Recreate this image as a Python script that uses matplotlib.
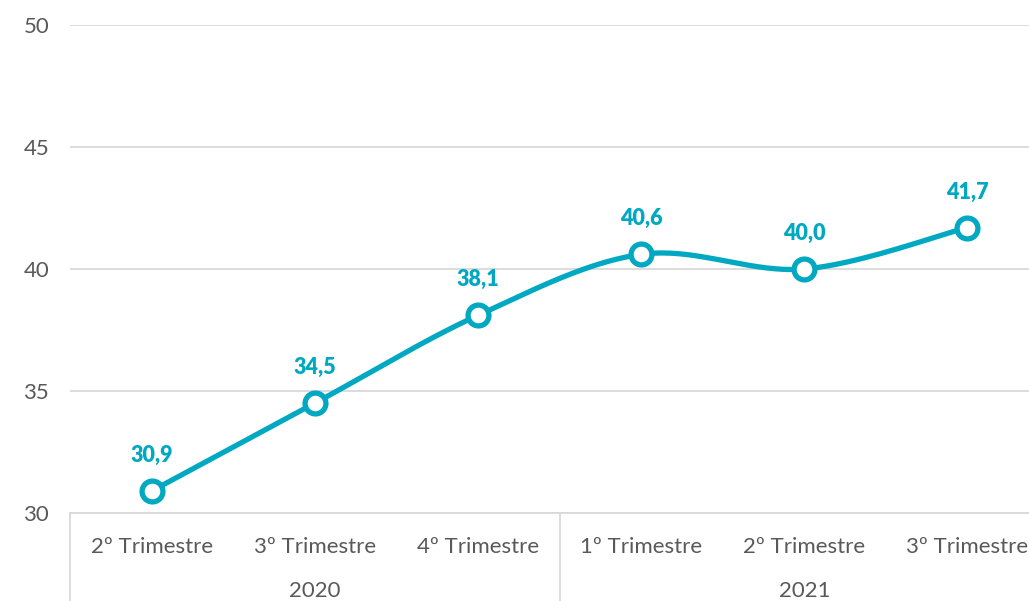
import matplotlib.pyplot as plt
import numpy as np

trimestres = ["2º Trimestre", "3º Trimestre", "4º Trimestre",
              "1º Trimestre", "2º Trimestre", "3º Trimestre"]
anos = ["2020", "2021"]
valores = [30.9, 34.5, 38.1, 40.6, 40.0, 41.7]

teal = "#00A9C1"
cinza = "#595959"
grade = "#D9D9D9"

plt.rcParams["font.family"] = ["Lato", "DejaVu Sans"]

fig = plt.figure(figsize=(10.29, 6.01), dpi=100)
ax = fig.add_axes([70 / 1029, 88 / 601, 979 / 1029, 488 / 601])

x = np.arange(len(valores))
y = np.array(valores)

# linha suavizada estilo Excel (bezier com pontos de controle catmull-rom)
sx, sy = 163.2, 24.4
px, py = x * sx, y * sy
cx, cy = [], []
t = np.linspace(0, 1, 40)
for i in range(len(px) - 1):
    p0 = np.array([px[max(i - 1, 0)], py[max(i - 1, 0)]])
    p1 = np.array([px[i], py[i]])
    p2 = np.array([px[i + 1], py[i + 1]])
    p3 = np.array([px[min(i + 2, len(px) - 1)], py[min(i + 2, len(px) - 1)]])
    c1 = p1 + (p2 - p0) / 6
    c2 = p2 - (p3 - p1) / 6
    b = ((1 - t) ** 3)[:, None] * p1 + (3 * (1 - t) ** 2 * t)[:, None] * c1 \
        + (3 * (1 - t) * t ** 2)[:, None] * c2 + (t ** 3)[:, None] * p2
    cx.extend(b[:, 0] / sx)
    cy.extend(b[:, 1] / sy)

ax.plot(cx, cy, color=teal, lw=3.8, solid_capstyle="round", zorder=3)
ax.plot(x, y, "o", ms=15, mfc="white", mec=teal, mew=3.8, zorder=4)

for xi, yi in zip(x, y):
    ax.annotate(f"{yi:.1f}".replace(".", ","), (xi, yi), xytext=(0, 18),
                textcoords="offset points", ha="center", va="bottom",
                color=teal, fontsize=15.5, fontweight="heavy")

ax.set_xlim(-0.5, 5.5)
ax.set_ylim(30, 50)
ax.set_yticks([30, 35, 40, 45, 50])
ax.yaxis.grid(True, color=grade, lw=1.3)
ax.set_axisbelow(True)
for s in ["top", "right", "left"]:
    ax.spines[s].set_visible(False)
ax.spines["bottom"].set_color(grade)
ax.spines["bottom"].set_linewidth(1.3)
ax.tick_params(axis="y", length=0, pad=15, labelsize=16, labelcolor=cinza)
ax.set_xticks(x)
ax.set_xticklabels(trimestres)
ax.tick_params(axis="x", length=0, pad=17, labelsize=16, labelcolor=cinza)

# rótulos de ano e separadores
for i, ano in enumerate(anos):
    ax.text(1 + 3 * i, -0.16, ano, transform=ax.get_xaxis_transform(),
            ha="center", va="center", fontsize=16, color=cinza)
for xs in [-0.5, 2.5]:
    ax.plot([xs, xs], [0, -0.2], transform=ax.get_xaxis_transform(),
            color=grade, lw=1.3, clip_on=False)

fig.savefig("out.png", dpi=100)
